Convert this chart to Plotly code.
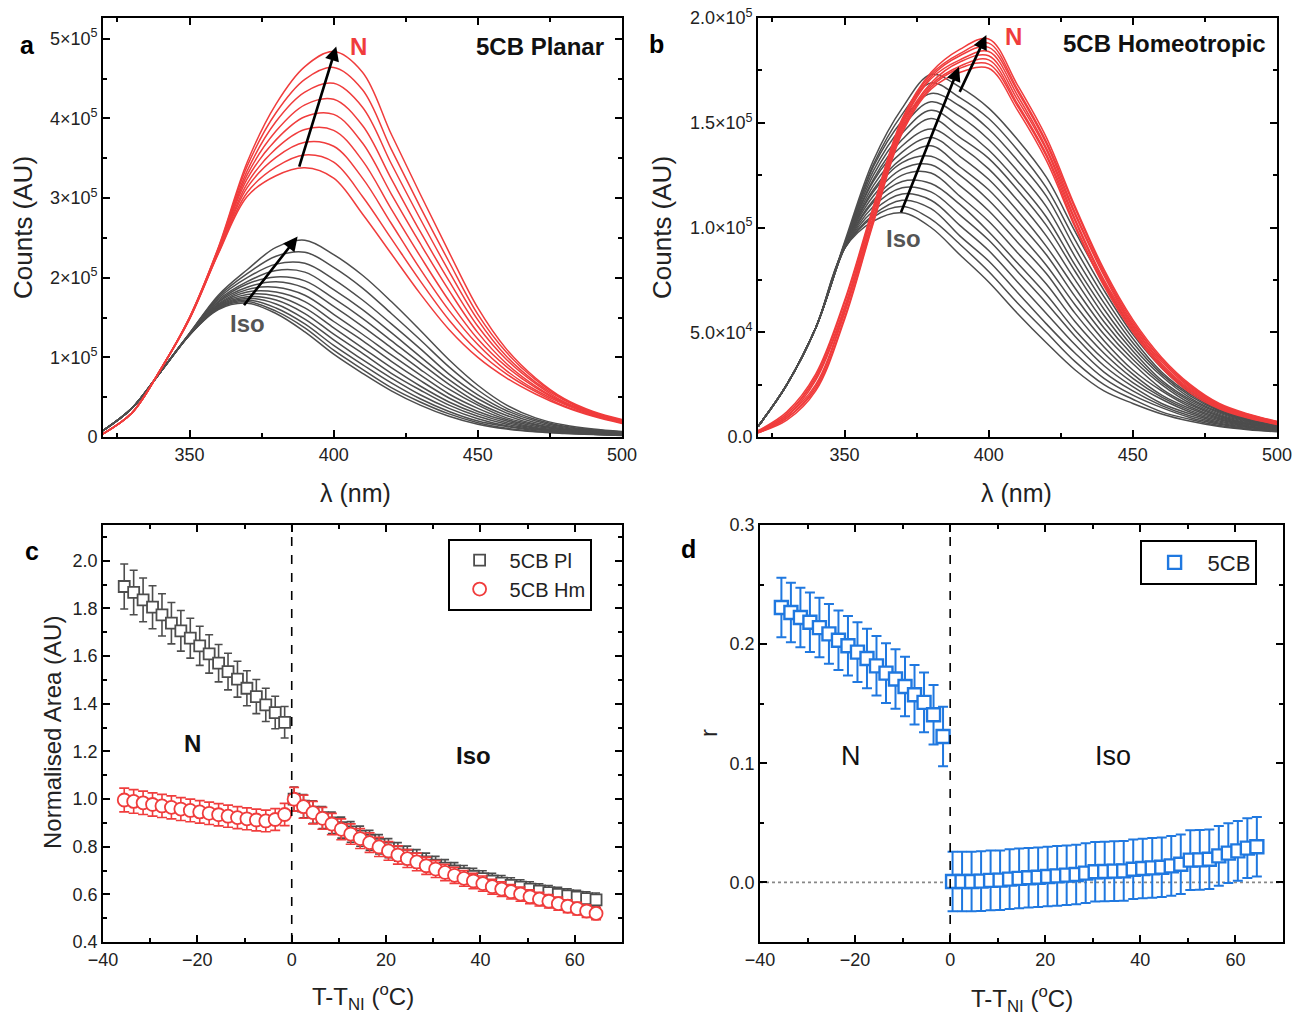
import plotly.graph_objects as go

# ---------------- data ----------------
wavelength = [320, 330, 340, 350, 360, 370, 380, 390, 400, 410, 420, 430, 440, 450, 460, 470, 480, 490, 500]
SCALE = 1e5  # spectra values below are in units of 1e5 counts

planar_iso = [
    [.08, .36, .82, 1.28, 1.60, 1.68, 1.55, 1.32, 1.04, .80, .58, .40, .26, .16, .10, .065, .045, .03, .02],
    [.08, .36, .82, 1.28, 1.61, 1.70, 1.58, 1.37, 1.09, .85, .62, .44, .29, .18, .11, .07, .05, .033, .022],
    [.08, .36, .82, 1.28, 1.62, 1.72, 1.62, 1.42, 1.15, .91, .68, .48, .32, .20, .13, .08, .055, .036, .025],
    [.08, .36, .82, 1.28, 1.63, 1.74, 1.67, 1.48, 1.22, .97, .74, .53, .36, .23, .14, .09, .06, .04, .027],
    [.08, .36, .82, 1.28, 1.64, 1.76, 1.72, 1.55, 1.29, 1.05, .80, .59, .40, .26, .16, .10, .066, .044, .03],
    [.08, .36, .82, 1.29, 1.65, 1.79, 1.77, 1.62, 1.37, 1.12, .87, .64, .44, .29, .18, .11, .072, .048, .033],
    [.08, .36, .82, 1.29, 1.66, 1.82, 1.82, 1.70, 1.45, 1.21, .95, .71, .49, .32, .20, .12, .08, .053, .037],
    [.08, .36, .82, 1.29, 1.67, 1.85, 1.88, 1.78, 1.54, 1.29, 1.03, .78, .54, .36, .22, .135, .087, .058, .04],
    [.08, .36, .82, 1.29, 1.69, 1.88, 1.95, 1.87, 1.64, 1.39, 1.12, .85, .60, .40, .24, .15, .095, .064, .044],
    [.08, .36, .82, 1.29, 1.70, 1.92, 2.01, 1.96, 1.74, 1.49, 1.21, .93, .66, .43, .27, .16, .10, .069, .048],
    [.08, .36, .82, 1.29, 1.72, 1.95, 2.09, 2.07, 1.85, 1.60, 1.31, 1.01, .72, .48, .30, .18, .113, .076, .053],
    [.08, .36, .82, 1.30, 1.74, 2.00, 2.17, 2.18, 1.98, 1.72, 1.42, 1.11, .79, .53, .33, .20, .124, .083, .058],
    [.08, .36, .82, 1.30, 1.76, 2.05, 2.27, 2.32, 2.13, 1.87, 1.55, 1.22, .88, .59, .36, .22, .136, .091, .064],
    [.08, .36, .82, 1.30, 1.78, 2.10, 2.38, 2.47, 2.29, 2.03, 1.70, 1.34, .97, .65, .40, .24, .15, .10, .07],
]

planar_nem = [
    [.04, .30, .85, 1.48, 2.30, 3.02, 3.28, 3.38, 3.25, 2.80, 2.30, 1.80, 1.35, 1.00, .74, .54, .38, .26, .17],
    [.04, .30, .85, 1.48, 2.31, 3.07, 3.39, 3.54, 3.45, 3.02, 2.49, 1.96, 1.47, 1.08, .79, .57, .39, .27, .18],
    [.04, .30, .85, 1.49, 2.32, 3.13, 3.51, 3.70, 3.65, 3.25, 2.68, 2.11, 1.59, 1.16, .83, .59, .41, .28, .18],
    [.04, .30, .85, 1.49, 2.33, 3.18, 3.62, 3.86, 3.85, 3.47, 2.86, 2.27, 1.71, 1.23, .88, .62, .42, .28, .19],
    [.04, .30, .85, 1.49, 2.34, 3.24, 3.73, 4.02, 4.05, 3.69, 3.05, 2.43, 1.84, 1.31, .92, .64, .43, .29, .20],
    [.04, .30, .85, 1.49, 2.35, 3.29, 3.84, 4.17, 4.24, 3.91, 3.24, 2.58, 1.96, 1.39, .97, .67, .44, .30, .20],
    [.04, .30, .85, 1.50, 2.36, 3.34, 3.96, 4.33, 4.44, 4.14, 3.43, 2.74, 2.08, 1.47, 1.01, .69, .46, .30, .21],
    [.04, .30, .85, 1.50, 2.37, 3.40, 4.07, 4.49, 4.64, 4.36, 3.61, 2.89, 2.20, 1.54, 1.06, .72, .47, .31, .21],
    [.04, .30, .85, 1.50, 2.38, 3.45, 4.18, 4.65, 4.84, 4.58, 3.80, 3.05, 2.32, 1.62, 1.10, .74, .48, .32, .22],
]

homeo_iso = [
    [.05, .25, .52, .90, 1.03, 1.07, 1.00, .87, .74, .59, .45, .32, .22, .16, .11, .075, .05, .035, .025],
    [.05, .25, .52, .90, 1.05, 1.10, 1.04, .92, .79, .64, .50, .36, .25, .18, .12, .084, .055, .038, .027],
    [.05, .25, .52, .90, 1.06, 1.13, 1.09, .96, .84, .69, .54, .40, .28, .20, .14, .092, .061, .041, .029],
    [.05, .25, .52, .90, 1.08, 1.16, 1.13, 1.01, .89, .74, .59, .44, .31, .22, .15, .10, .066, .045, .031],
    [.05, .25, .52, .90, 1.10, 1.19, 1.17, 1.06, .94, .79, .64, .48, .34, .24, .16, .11, .071, .048, .033],
    [.05, .25, .52, .90, 1.12, 1.22, 1.21, 1.11, .98, .83, .68, .51, .37, .26, .18, .118, .076, .051, .035],
    [.05, .25, .52, .91, 1.13, 1.25, 1.26, 1.15, 1.03, .88, .73, .55, .40, .28, .19, .126, .082, .054, .037],
    [.05, .25, .52, .91, 1.15, 1.28, 1.30, 1.20, 1.08, .93, .78, .59, .43, .30, .20, .135, .087, .058, .039],
    [.05, .25, .52, .91, 1.17, 1.31, 1.34, 1.25, 1.13, .98, .82, .63, .46, .32, .22, .143, .092, .061, .041],
    [.05, .25, .52, .91, 1.18, 1.33, 1.39, 1.29, 1.18, 1.03, .87, .67, .49, .35, .23, .152, .098, .064, .044],
    [.05, .25, .52, .91, 1.20, 1.36, 1.43, 1.34, 1.23, 1.08, .91, .71, .52, .37, .25, .16, .103, .067, .046],
    [.05, .25, .52, .91, 1.22, 1.39, 1.47, 1.39, 1.28, 1.13, .96, .75, .55, .39, .26, .169, .108, .071, .048],
    [.05, .25, .52, .92, 1.23, 1.42, 1.52, 1.43, 1.33, 1.18, 1.01, .79, .58, .41, .27, .177, .114, .074, .05],
    [.05, .25, .52, .92, 1.25, 1.45, 1.56, 1.48, 1.37, 1.22, 1.05, .82, .61, .43, .29, .186, .119, .077, .052],
    [.05, .25, .52, .92, 1.27, 1.48, 1.60, 1.53, 1.42, 1.27, 1.10, .86, .64, .45, .30, .195, .124, .08, .054],
    [.05, .25, .52, .92, 1.29, 1.51, 1.64, 1.58, 1.47, 1.32, 1.15, .90, .67, .47, .31, .203, .129, .084, .056],
    [.05, .25, .52, .92, 1.30, 1.54, 1.69, 1.62, 1.52, 1.37, 1.19, .94, .70, .49, .33, .211, .135, .087, .058],
    [.05, .25, .52, .93, 1.32, 1.57, 1.73, 1.67, 1.57, 1.42, 1.24, .98, .73, .51, .34, .22, .14, .09, .06],
]

homeo_nem = [
    [.02, .08, .22, .56, 1.02, 1.45, 1.66, 1.74, 1.76, 1.56, 1.32, 1.00, .72, .50, .33, .21, .135, .09, .06],
    [.02, .09, .23, .57, 1.03, 1.46, 1.67, 1.76, 1.78, 1.58, 1.34, 1.01, .73, .51, .34, .22, .139, .093, .062],
    [.02, .09, .24, .59, 1.04, 1.47, 1.68, 1.77, 1.80, 1.59, 1.35, 1.03, .74, .52, .34, .22, .142, .096, .064],
    [.024, .10, .25, .60, 1.05, 1.48, 1.69, 1.79, 1.82, 1.61, 1.37, 1.04, .75, .53, .35, .227, .146, .099, .066],
    [.026, .10, .27, .61, 1.07, 1.49, 1.71, 1.80, 1.84, 1.63, 1.38, 1.06, .77, .53, .36, .233, .149, .101, .069],
    [.027, .11, .28, .62, 1.08, 1.50, 1.72, 1.82, 1.86, 1.65, 1.40, 1.07, .78, .54, .37, .239, .153, .104, .071],
    [.029, .11, .29, .64, 1.09, 1.51, 1.73, 1.83, 1.88, 1.66, 1.41, 1.09, .79, .55, .37, .244, .156, .107, .073],
    [.03, .12, .30, .65, 1.10, 1.52, 1.74, 1.85, 1.90, 1.68, 1.43, 1.10, .80, .56, .38, .25, .16, .11, .075],
]

temp_nem = [-35.5, -33.5, -31.5, -29.5, -27.5, -25.5, -23.5, -21.5, -19.5, -17.5, -15.5, -13.5,
            -11.5, -9.5, -7.5, -5.5, -3.5, -1.5]
temp_iso = [0.5, 2.5, 4.5, 6.5, 8.5, 10.5, 12.5, 14.5, 16.5, 18.5, 20.5, 22.5, 24.5, 26.5, 28.5, 30.5,
            32.5, 34.5, 36.5, 38.5, 40.5, 42.5, 44.5, 46.5, 48.5, 50.5, 52.5, 54.5, 56.5, 58.5, 60.5, 62.5, 64.5]

area_pl_nem = [1.892, 1.867, 1.836, 1.805, 1.773, 1.738, 1.706, 1.675, 1.643, 1.609, 1.570, 1.535,
               1.503, 1.465, 1.430, 1.395, 1.363, 1.322]
area_pl_iso = [1.00, 0.97, 0.945, 0.922, 0.900, 0.880, 0.862, 0.844, 0.827, 0.810, 0.794, 0.778, 0.764,
               0.750, 0.736, 0.723, 0.710, 0.698, 0.687, 0.676, 0.666, 0.656, 0.647, 0.638, 0.630, 0.622,
               0.614, 0.607, 0.600, 0.594, 0.588, 0.582, 0.577]
area_hm_nem = [0.996, 0.990, 0.984, 0.977, 0.971, 0.965, 0.958, 0.952, 0.946, 0.940, 0.934, 0.928,
               0.922, 0.917, 0.912, 0.908, 0.914, 0.935]
area_hm_iso = [0.999, 0.968, 0.943, 0.919, 0.895, 0.873, 0.853, 0.834, 0.817, 0.799, 0.782, 0.765, 0.750,
               0.736, 0.720, 0.706, 0.692, 0.680, 0.667, 0.656, 0.645, 0.632, 0.622, 0.611, 0.601, 0.590,
               0.580, 0.571, 0.561, 0.550, 0.540, 0.530, 0.520]
area_err_pct = 5

r_nem = [0.2307, 0.2265, 0.2223, 0.2184, 0.2139, 0.2086, 0.2033, 0.1986, 0.1933, 0.1879, 0.1818, 0.1757,
         0.1707, 0.1645, 0.1575, 0.1511, 0.1407, 0.1225]
r_iso = [0.0008, 0.0008, 0.0008, 0.0011, 0.0017, 0.0019, 0.0028, 0.0034, 0.0039, 0.0044, 0.0050, 0.0055,
         0.0061, 0.0067, 0.0078, 0.0089, 0.0092, 0.0095, 0.0097, 0.0111, 0.0117, 0.0122, 0.0128, 0.0139,
         0.0153, 0.0187, 0.0189, 0.0195, 0.0223, 0.0246, 0.0265, 0.0288, 0.0299]
r_err = 0.025

# ---------------- styling ----------------
GRAY = "#4d4d4d"
RED = "#f03c3c"
BLUE = "#1f78e0"
FONT = "Arial, 'Liberation Sans', sans-serif"
W, H = 1294, 1015


def px_x(p):
    return p / W


def px_y(p):
    return 1 - p / H


fig = go.Figure()

# Panel a
for curve in planar_iso:
    fig.add_trace(go.Scatter(x=wavelength, y=[v * SCALE for v in curve], mode="lines",
                             line=dict(color=GRAY, width=1.5, shape="spline"),
                             showlegend=False, xaxis="x", yaxis="y", hoverinfo="skip"))
for curve in planar_nem:
    fig.add_trace(go.Scatter(x=wavelength, y=[v * SCALE for v in curve], mode="lines",
                             line=dict(color=RED, width=1.5, shape="spline"),
                             showlegend=False, xaxis="x", yaxis="y", hoverinfo="skip"))
# Panel b
for curve in homeo_iso:
    fig.add_trace(go.Scatter(x=wavelength, y=[v * SCALE for v in curve], mode="lines",
                             line=dict(color=GRAY, width=1.5, shape="spline"),
                             showlegend=False, xaxis="x2", yaxis="y2", hoverinfo="skip"))
for curve in homeo_nem:
    fig.add_trace(go.Scatter(x=wavelength, y=[v * SCALE for v in curve], mode="lines",
                             line=dict(color=RED, width=1.5, shape="spline"),
                             showlegend=False, xaxis="x2", yaxis="y2", hoverinfo="skip"))

# Panel c
temps = temp_nem + temp_iso
fig.add_trace(go.Scatter(
    x=temps, y=area_pl_nem + area_pl_iso, mode="markers", name="5CB Pl",
    marker=dict(symbol="square", size=11, color="white", line=dict(color=GRAY, width=1.8)),
    error_y=dict(type="percent", value=area_err_pct, color=GRAY, thickness=1.6, width=4),
    xaxis="x3", yaxis="y3", legend="legend"))
fig.add_trace(go.Scatter(
    x=temps, y=area_hm_nem + area_hm_iso, mode="markers", name="5CB Hm",
    marker=dict(symbol="circle", size=13, color="white", line=dict(color=RED, width=1.8)),
    error_y=dict(type="percent", value=area_err_pct, color=RED, thickness=1.6, width=5),
    xaxis="x3", yaxis="y3", legend="legend"))

# Panel d
fig.add_trace(go.Scatter(
    x=temps, y=r_nem + r_iso, mode="markers", name="5CB",
    marker=dict(symbol="square", size=13, color="white", line=dict(color=BLUE, width=2.4)),
    error_y=dict(type="constant", value=r_err, color=BLUE, thickness=2, width=5),
    xaxis="x4", yaxis="y4", legend="legend2"))

axis_common = dict(showline=True, linecolor="black", linewidth=1.8, mirror="allticks",
                   ticks="inside", ticklen=7, tickwidth=1.5, tickcolor="black",
                   showgrid=False, zeroline=False, automargin=False,
                   tickfont=dict(family=FONT, size=18, color="#222"))
minor_common = dict(ticklen=4, tickcolor="black", ticks="inside", tickwidth=1.5, showgrid=False)

a_dom_x = [px_x(103), px_x(622)]
b_dom_x = [px_x(758), px_x(1277)]
top_dom_y = [px_y(437), px_y(18)]
c_dom_x = [px_x(103), px_x(622)]
d_dom_x = [px_x(760), px_x(1283)]
bot_dom_y = [px_y(942), px_y(525)]

fig.update_layout(
    width=W, height=H, margin=dict(l=0, r=0, t=0, b=0, autoexpand=False),
    paper_bgcolor="white", plot_bgcolor="white",
    font=dict(family=FONT, color="#222"),
    xaxis=dict(domain=a_dom_x, anchor="y", range=[320, 500], tickvals=[350, 400, 450, 500],
               minor=dict(tickvals=[325, 375, 425, 475], **minor_common), **axis_common),
    yaxis=dict(domain=top_dom_y, anchor="x", range=[0, 5.26e5],
               tickvals=[0, 1e5, 2e5, 3e5, 4e5, 5e5],
               ticktext=["0", "1×10<sup>5</sup>", "2×10<sup>5</sup>", "3×10<sup>5</sup>",
                         "4×10<sup>5</sup>", "5×10<sup>5</sup>"],
               minor=dict(tickvals=[0.5e5, 1.5e5, 2.5e5, 3.5e5, 4.5e5], **minor_common),
               **axis_common),
    xaxis2=dict(domain=b_dom_x, anchor="y2", range=[320, 500], tickvals=[350, 400, 450, 500],
                minor=dict(tickvals=[325, 375, 425, 475], **minor_common), **axis_common),
    yaxis2=dict(domain=top_dom_y, anchor="x2", range=[0, 2.0e5],
                tickvals=[0, 5e4, 1e5, 1.5e5, 2e5],
                ticktext=["0.0", "5.0×10<sup>4</sup>", "1.0×10<sup>5</sup>", "1.5×10<sup>5</sup>",
                          "2.0×10<sup>5</sup>"],
                minor=dict(tickvals=[2.5e4, 7.5e4, 1.25e5, 1.75e5], **minor_common),
                **axis_common),
    xaxis3=dict(domain=c_dom_x, anchor="y3", range=[-40, 70], tickvals=[-40, -20, 0, 20, 40, 60],
                minor=dict(tickvals=[-30, -10, 10, 30, 50], **minor_common), **axis_common),
    yaxis3=dict(domain=bot_dom_y, anchor="x3", range=[0.4, 2.15],
                tickvals=[0.4, 0.6, 0.8, 1.0, 1.2, 1.4, 1.6, 1.8, 2.0], tickformat=".1f",
                minor=dict(tickvals=[0.5, 0.7, 0.9, 1.1, 1.3, 1.5, 1.7, 1.9, 2.1], **minor_common),
                **axis_common),
    xaxis4=dict(domain=d_dom_x, anchor="y4", range=[-40, 70], tickvals=[-40, -20, 0, 20, 40, 60],
                minor=dict(tickvals=[-30, -10, 10, 30, 50], **minor_common), **axis_common),
    yaxis4=dict(domain=bot_dom_y, anchor="x4", range=[-0.05, 0.3],
                tickvals=[0.0, 0.1, 0.2, 0.3], tickformat=".1f",
                minor=dict(tickvals=[0.05, 0.15, 0.25], **minor_common), **axis_common),
    legend=dict(x=px_x(448), y=px_y(539), xanchor="left", yanchor="top",
                bordercolor="black", borderwidth=1.6, bgcolor="white",
                font=dict(family=FONT, size=20, color="#222"), itemwidth=50,
                tracegroupgap=0),
    legend2=dict(x=px_x(1140), y=px_y(540), xanchor="left", yanchor="top",
                 bordercolor="black", borderwidth=1.6, bgcolor="white",
                 font=dict(family=FONT, size=22, color="#222"), itemwidth=56),
)

shapes = [
    dict(type="line", xref="x3", yref="y3 domain", x0=0, x1=0, y0=0, y1=1,
         line=dict(color="black", width=1.6, dash="dash")),
    dict(type="line", xref="x4", yref="y4 domain", x0=0, x1=0, y0=0, y1=1,
         line=dict(color="black", width=1.6, dash="dash")),
    dict(type="line", xref="x4 domain", yref="y4", x0=0, x1=1, y0=0, y1=0,
         line=dict(color="#888", width=1.8, dash="dot"), layer="below"),
]
fig.update_layout(shapes=shapes)

ann = []


def txt(x, y, s, size, color="#111", bold=False, angle=0, xanchor="center"):
    if bold:
        s = "<b>" + s + "</b>"
    ann.append(dict(x=px_x(x), y=px_y(y), xref="paper", yref="paper", text=s, showarrow=False,
                    font=dict(family=FONT, size=size, color=color), textangle=angle,
                    xanchor=xanchor, yanchor="middle"))


# panel labels
txt(27, 45, "a", 25, "black", True)
txt(656, 44, "b", 25, "black", True)
txt(32, 551, "c", 25, "black", True)
txt(688, 549, "d", 25, "black", True)
# axis titles
txt(23, 228, "Counts (AU)", 26, "#222", angle=-90)
txt(662, 228, "Counts (AU)", 26, "#222", angle=-90)
txt(355, 493, "λ (nm)", 25, "#222")
txt(1016, 493, "λ (nm)", 25, "#222")
txt(52, 733, "Normalised Area (AU)", 24, "#222", angle=-90)
txt(708, 733, "r", 24, "#222", angle=-90)
txt(363, 997, "T-T<sub>NI</sub> (<sup>o</sup>C)", 24, "#222")
txt(1022, 999, "T-T<sub>NI</sub> (<sup>o</sup>C)", 24, "#222")
# in-plot labels
txt(606, 47, "5CB Planar", 24, "#111", True, xanchor="right")
txt(1268, 44, "5CB Homeotropic", 24, "#111", True, xanchor="right")
txt(358, 46, "N", 24, RED, True)
txt(247, 323, "Iso", 24, "#555", True)
txt(1013, 37, "N", 24, RED, True)
txt(904, 238, "Iso", 24, "#555", True)
txt(192, 743, "N", 24, "#111", True)
txt(473, 755, "Iso", 24, "#111", True)
txt(851, 756, "N", 27, "#111")
txt(1113, 756, "Iso", 27, "#111")


# arrows
def arrow(xr, yr, x, y, ax, ay):
    ann.append(dict(x=x, y=y, ax=ax, ay=ay, xref=xr, yref=yr, axref=xr, ayref=yr,
                    showarrow=True, arrowhead=2, arrowsize=1.1, arrowwidth=2.6,
                    arrowcolor="black", text="", standoff=0, startstandoff=0))


arrow("x", "y", 387.5, 2.516e5, 368.5, 1.637e5)
arrow("x", "y", 400.9, 4.903e5, 387.9, 3.376e5)
arrow("x2", "y2", 389.7, 1.767e5, 369.4, 1.066e5)
arrow("x2", "y2", 399.2, 1.919e5, 389.7, 1.640e5)

fig.update_layout(annotations=ann)

fig.write_html("out.html", include_plotlyjs=True,
               config=dict(displayModeBar=False, responsive=False),
               post_script="document.body.style.margin='0';document.body.style.overflow='hidden';")
